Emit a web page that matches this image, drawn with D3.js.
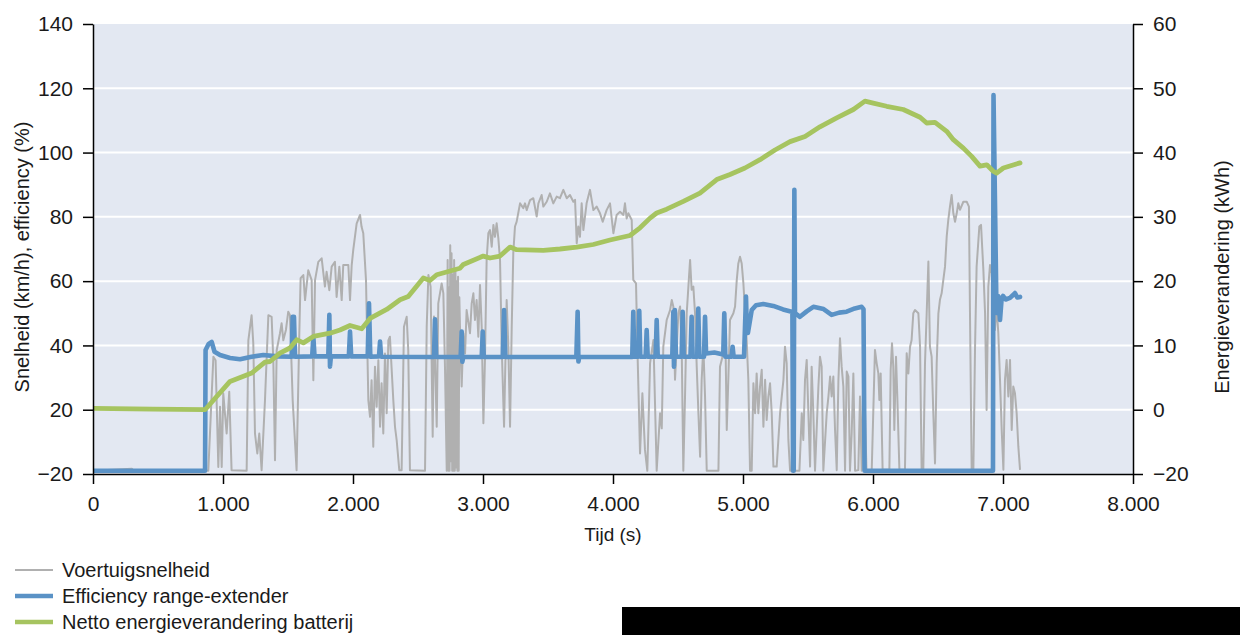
<!DOCTYPE html>
<html>
<head>
<meta charset="utf-8">
<script src="https://cdn.jsdelivr.net/npm/d3@7/dist/d3.min.js"></script>
<style>
  html, body { margin: 0; padding: 0; background: #fff; }
  svg { display: block; font-family: "Liberation Sans", Arial, sans-serif; }
</style>
</head>
<body>
<svg id="chart" width="1240" height="635"></svg>
<script>
// ---------- DATA ----------
const xTickValues = [0, 1000, 2000, 3000, 4000, 5000, 6000, 7000, 8000];
const xTickLabels = ["0", "1.000", "2.000", "3.000", "4.000", "5.000", "6.000", "7.000", "8.000"];
const leftTickValues = [0, 20, 40, 60, 80, 100, 120, 140];
const leftTickLabels = ["\u221220", "20", "40", "60", "80", "100", "120", "140"];
const rightTickValues = [-10, 0, 10, 20, 30, 40, 50, 60];
const rightTickLabels = ["\u221220", "0", "10", "20", "30", "40", "50", "60"];

const seriesNames = ["Voertuigsnelheid", "Efficiency range-extender", "Netto energieverandering batterij"];

// Voertuigsnelheid [tijd (s), km/h] (left axis)
const speed = [
[0,1],[300,1.6],[310,1],[880,1],[887,1],[926,36.5],[943,35.4],[964,2.2],[977,20.9],[990,2.2],[1002,25.1],[1028,12.6],[1048,25.6],[1066,1.2],[1182,1],[1195,41.6],[1220,49.4],[1233,40.6],[1246,12.6],[1264,6.4],[1279,12.6],[1297,1.2],[1323,23.0],[1349,49.4],[1374,48.9],[1387,35.4],[1400,4.3],[1413,38.5],[1438,43.7],[1451,46.9],[1464,41.6],[1484,44.8],[1502,50.5],[1515,49.4],[1536,23.0],[1566,1.2],[1587,43.7],[1597,60.9],[1618,61.9],[1631,54.1],[1656,63.4],[1682,60.3],[1695,29.2],[1708,60.3],[1733,66.0],[1759,67.1],[1784,58.3],[1797,62.9],[1818,57.2],[1836,64.5],[1861,66.0],[1874,55.1],[1895,64.5],[1913,54.1],[1925,65.0],[1964,65.0],[1977,54.1],[1990,65.0],[2002,69.7],[2028,77.9],[2054,80.6],[2066,76.9],[2079,74.9],[2100,60.3],[2118,23.0],[2131,17.8],[2143,29.2],[2156,8.5],[2169,33.4],[2182,20.9],[2195,35.4],[2208,14.7],[2220,28.2],[2233,12.6],[2246,37.5],[2259,18.9],[2272,41.6],[2284,42.7],[2310,23.0],[2323,14.7],[2336,10.5],[2356,1.2],[2374,1.2],[2392,45.8],[2413,48.9],[2425,38.5],[2438,1.2],[2554,1],[2567,45.8],[2580,61.9],[2597,58.3],[2613,11.6],[2623,49.0],[2644,14.7],[2656,53.1],[2682,59.3],[2695,56.2],[2708,32.4],[2721,1],
[2728,66.6],[2733,1],[2738,58],[2743,1],[2748,71.2],[2753,4],[2758,68.7],[2763,1],[2768,62],[2773,1],[2778,66.6],[2783,1],[2788,63.5],[2793,2],[2798,60],[2803,1],[2808,61.4],[2813,1],[2818,55],[2823,45.8],
[2836,27.2],[2849,43.8],[2862,37.5],[2874,51.0],[2900,43.8],[2913,53.1],[2926,56.2],[2938,47.9],[2951,54.1],[2964,42.7],[2977,58.8],[2990,45.8],[3003,15.8],[3015,35.5],[3028,66.6],[3041,74.9],[3054,75.9],[3067,70.7],[3080,77.5],[3092,73.8],[3105,78.0],[3118,73.3],[3131,66.6],[3144,39.6],[3162,14.7],[3182,54.1],[3195,39.6],[3208,14.7],[3221,45.8],[3233,68.7],[3246,77.0],[3259,78.5],[3285,84.2],[3310,82.7],[3323,84.2],[3336,82.1],[3362,85.2],[3387,85.8],[3413,80.1],[3426,84.2],[3451,86.8],[3464,83.2],[3490,84.7],[3515,87.3],[3541,84.2],[3567,86.3],[3592,85.8],[3618,88.4],[3644,85.8],[3669,86.8],[3695,84.7],[3708,85.3],[3721,71.8],[3733,77.0],[3746,73.8],[3759,84.2],[3772,75.9],[3797,84.2],[3823,88.4],[3849,82.1],[3874,83.2],[3900,81.1],[3921,78.5],[3951,82.1],[3977,84.2],[4003,74.9],[4028,80.6],[4054,81.6],[4080,80.6],[4092,84.2],[4105,79.5],[4118,81.1],[4144,79.0],[4156,60.4],[4177,59.3],[4190,35.5],[4208,6.4],[4226,25.1],[4246,7.5],[4264,1],
[4285,34.4],[4311,41.7],[4336,1],[4362,18.9],[4375,14.2],[4387,39.6],[4413,47.9],[4439,51.0],[4452,54.1],[4464,52.1],[4477,29.3],[4490,39.6],[4503,50.0],[4516,52.1],[4529,37.6],[4541,1],[4554,24.1],[4567,50.0],[4580,58.3],[4593,66.6],[4605,57.3],[4618,58.3],[4631,50.0],[4644,33.4],[4657,18.9],[4670,5.4],[4682,29.3],[4695,39.6],[4708,24.1],[4721,1],[4811,1],[4823,33.4],[4849,37.6],[4862,50.0],[4875,13.7],[4887,29.3],[4900,47.9],[4926,50.0],[4939,52.1],[4952,60.4],[4964,65.5],[4977,67.6],[4990,65.5],[5003,59.3],[5016,50.0],[5028,41.7],[5041,29.3],[5054,1],[5067,1],[5080,28.2],[5093,18.9],[5105,31.3],[5118,18.9],[5131,27.2],[5144,32.4],[5157,14.7],[5170,29.3],[5182,16.8],[5195,24.1],[5208,28.2],[5221,18.9],[5234,2.3],[5259,2.3],[5285,18.9],[5298,24.1],[5311,29.3],[5323,39.6],[5336,34.4],[5349,10.6],[5362,1],[5434,1],[5452,18.9],[5464,10.6],[5477,29.3],[5490,35.5],[5503,18.9],[5516,2.3],[5528,33.4],[5541,18.9],[5554,1],[5580,27.2],[5592,36.5],[5605,33.4],[5618,1],[5644,18.9],[5657,24.1],[5670,30.3],[5682,24.1],[5695,30.3],[5708,13.7],[5721,1.2],[5734,29.3],[5746,42.2],[5759,33.4],[5772,27.2],[5785,1],[5798,31.9],[5811,30.3],[5823,1],[5836,12.7],[5849,31.3],[5862,1],[5887,1.2],[5900,24.1],[5913,1],[5926,33.4],[5938,20],[5950,1],[5990,1],
[6015,38.6],[6028,34.5],[6041,31.3],[6049,23.0],[6059,31.3],[6074,1.3],[6126,1.3],[6136,32.4],[6146,40.7],[6156,33.4],[6164,13.7],[6177,36.5],[6187,24.1],[6203,1.3],[6246,1.3],[6259,37.6],[6272,31.3],[6285,39.6],[6297,41.7],[6310,50.0],[6323,51.0],[6349,50.0],[6362,39.6],[6374,1.3],[6387,1.3],[6400,34.5],[6413,50.0],[6426,66.1],[6438,39.6],[6451,36.5],[6464,18.9],[6477,3.3],[6490,34.5],[6503,50.0],[6515,54.2],[6528,56.2],[6541,60.4],[6554,64.5],[6567,73.9],[6579,79.0],[6592,83.2],[6605,86.8],[6618,81.1],[6631,78.5],[6644,81.1],[6656,84.2],[6669,82.2],[6695,84.7],[6721,84.7],[6738,83.2],[6746,50.0],[6759,1.3],[6772,1.3],[6785,39.6],[6797,64.5],[6818,77.0],[6831,77.5],[6849,63.5],[6862,50.0],[6874,19.9],[6887,58.3],[6900,65.0],[6913,62.5],[6926,47.9],[6938,44.8],[6951,52.1],[6964,43.8],[6977,29.3],[6990,13.7],[7003,1.3],[7015,29.3],[7028,35.5],[7041,24.1],[7054,35.5],[7067,13.7],[7079,27.2],[7092,25.1],[7105,18.9],[7118,8.5],[7131,1.3]
];

// Efficiency range-extender [tijd (s), %] (left axis)
const efficiency = [
[0,1],[862,1],[866,38.6],[890,40.5],[913,41.1],[935,38],[977,37.0],[1054,36.1],[1131,35.7],[1220,36.5],[1310,37.0],[1420,36.6],[1528,36.5],[1536,48.9],[1546,48.9],[1554,36.5],[1686,36.6],[1695,42.7],[1704,36.6],[1810,36.6],[1818,49.5],[1823,33.4],[1830,36.6],[1968,36.6],[1977,44.3],[1986,36.6],[2113,36.6],[2123,53.1],[2133,36.5],[2200,36.6],[2208,41.2],[2216,36.5],[2623,36.4],[2631,48.1],[2640,36.4],[2828,36.4],[2836,44.3],[2841,34.9],[2848,36.4],[2990,36.4],[2998,44.3],[3006,36.4],[3152,36.4],[3162,51.0],[3172,36.4],[3718,36.4],[3728,50.5],[3734,35.0],[3740,36.4],[4148,36.4],[4156,50.5],[4164,36.5],[4194,36.5],[4202,50.8],[4210,36.5],[4251,36.5],[4259,44.8],[4267,36.5],[4328,36.5],[4336,47.9],[4344,36.5],[4456,36.5],[4464,50.5],[4469,33.4],[4476,51.0],[4484,36.5],[4528,36.5],[4536,50.5],[4544,36.5],[4596,36.5],[4605,48.9],[4613,36.5],[4648,36.5],[4656,51.5],[4664,36.5],[4700,36.5],[4708,48.9],[4716,37.5],[4780,37.8],[4848,37.2],[4856,50.0],[4864,36.5],[4912,36.5],[4920,39.6],[4928,36.5],[5008,36.5],[5023,55.2],[5030,43.9],[5038,43.9],[5067,51.0],[5100,52.5],[5156,52.9],[5233,52.3],[5308,51.2],[5374,50.5],[5380,50.5],[5385,1],[5390,1],[5395,88.4],[5400,50.1],[5438,48.9],[5490,50.6],[5541,52.0],[5620,51.3],[5682,49.5],[5740,50.2],[5797,50.5],[5860,51.5],[5913,52.0],[5927,51.3],[5935,1],[6923,1],[6927,117.9],[6950,50.1],[6962,55.4],[6977,47.9],[6990,54.8],[7000,55.4],[7020,54.3],[7054,54.8],[7075,55.6],[7092,56.3],[7110,54.9],[7131,55.1]
];

// Netto energieverandering batterij [tijd (s), kWh] (right axis)
const energy = [
[0,0.2],[460,0.1],[862,0],[1054,4.4],[1182,5.4],[1221,5.7],[1323,7.4],[1362,7.5],[1438,8.8],[1515,9.6],[1567,10.9],[1618,10.4],[1695,11.4],[1823,11.9],[1900,12.4],[1977,13.1],[2067,12.6],[2131,14.2],[2259,15.6],[2362,17.1],[2425,17.6],[2541,20.5],[2592,20.1],[2644,21.0],[2823,22.0],[2849,22.6],[3002,23.9],[3054,23.6],[3131,23.9],[3208,25.3],[3259,24.9],[3464,24.8],[3592,25.0],[3721,25.3],[3848,25.7],[3977,26.4],[4131,27.1],[4208,28.3],[4285,29.8],[4336,30.6],[4413,31.2],[4541,32.4],[4669,33.7],[4798,35.8],[4900,36.6],[5015,37.6],[5131,38.9],[5246,40.4],[5362,41.7],[5477,42.5],[5592,44.0],[5721,45.4],[5849,46.7],[5938,48.0],[6002,47.7],[6105,47.2],[6233,46.7],[6362,45.5],[6413,44.6],[6477,44.7],[6567,43.3],[6618,42.0],[6695,40.7],[6759,39.4],[6823,37.9],[6875,38.1],[6925,37.1],[6951,36.8],[7003,37.6],[7131,38.4]
];

// ---------- CHART ----------
const svg = d3.select("#chart");
const M = { left: 93, right: 1133, top: 24, bottom: 474 };
const textColor = "#1a1a1a";
const colors = { speed: "#b0b0b0", eff: "#5a92c6", energy: "#a6c460" };

const x = d3.scaleLinear().domain([0, 8000]).range([M.left, M.right]);
const yL = d3.scaleLinear().domain([0, 140]).range([M.bottom, M.top]);
const yR = d3.scaleLinear().domain([-10, 60]).range([M.bottom, M.top]);

// plot background
svg.append("rect")
  .attr("x", M.left).attr("y", M.top)
  .attr("width", M.right - M.left).attr("height", M.bottom - M.top)
  .attr("fill", "#e3e8f2");

// gridlines
svg.append("g")
  .selectAll("line")
  .data(leftTickValues.filter(v => v > 0 && v < 140))
  .join("line")
  .attr("x1", M.left).attr("x2", M.right)
  .attr("y1", d => yL(d)).attr("y2", d => yL(d))
  .attr("stroke", "#ffffff").attr("stroke-width", 2);

svg.append("clipPath").attr("id", "clip")
  .append("rect").attr("x", M.left).attr("y", M.top - 5)
  .attr("width", M.right - M.left).attr("height", M.bottom - M.top + 5);

const plot = svg.append("g").attr("clip-path", "url(#clip)");

const lineL = d3.line().x(d => x(d[0])).y(d => yL(d[1]));
const lineR = d3.line().x(d => x(d[0])).y(d => yR(d[1]));

plot.append("path").datum(speed)
  .attr("d", lineL).attr("fill", "none")
  .attr("stroke", colors.speed).attr("stroke-width", 2)
  .attr("stroke-linejoin", "round");

plot.append("path").datum(efficiency)
  .attr("d", lineL).attr("fill", "none")
  .attr("stroke", colors.eff).attr("stroke-width", 4.6)
  .attr("stroke-linejoin", "round").attr("stroke-linecap", "round");

plot.append("path").datum(energy)
  .attr("d", lineR).attr("fill", "none")
  .attr("stroke", colors.energy).attr("stroke-width", 4.8)
  .attr("stroke-linejoin", "round").attr("stroke-linecap", "round");

// axes
const fontSize = 21;
function styleAxis(g) {
  g.selectAll(".domain").attr("stroke", "#000").attr("stroke-width", 1.5);
  g.selectAll(".tick line").attr("stroke", "#000").attr("stroke-width", 1.5);
  g.selectAll(".tick text").attr("fill", textColor).attr("font-size", fontSize)
    .attr("font-family", "Liberation Sans, Arial, sans-serif");
}

const gx = svg.append("g").attr("transform", `translate(0,${M.bottom})`)
  .call(d3.axisBottom(x).tickValues(xTickValues)
    .tickFormat((d, i) => xTickLabels[i]).tickSizeInner(10).tickSizeOuter(0).tickPadding(12));
styleAxis(gx);

const gl = svg.append("g").attr("transform", `translate(${M.left},0)`)
  .call(d3.axisLeft(yL).tickValues(leftTickValues)
    .tickFormat((d, i) => leftTickLabels[i]).tickSizeInner(10).tickSizeOuter(0).tickPadding(10));
styleAxis(gl);

const gr = svg.append("g").attr("transform", `translate(${M.right},0)`)
  .call(d3.axisRight(yR).tickValues(rightTickValues)
    .tickFormat((d, i) => rightTickLabels[i]).tickSizeInner(10).tickSizeOuter(0).tickPadding(10));
styleAxis(gr);

// axis titles
svg.append("text")
  .attr("x", (M.left + M.right) / 2).attr("y", 541)
  .attr("text-anchor", "middle").attr("font-size", 19).attr("fill", textColor)
  .text("Tijd (s)");

svg.append("text")
  .attr("transform", `translate(29,257) rotate(-90)`)
  .attr("text-anchor", "middle").attr("font-size", 20).attr("fill", textColor)
  .text("Snelheid (km/h), efficiency (%)");

svg.append("text")
  .attr("transform", `translate(1229,277) rotate(-90)`)
  .attr("text-anchor", "middle").attr("font-size", 20).attr("fill", textColor)
  .text("Energieverandering (kWh)");

// legend
const legendItems = [
  { name: seriesNames[0], color: colors.speed, w: 2 },
  { name: seriesNames[1], color: colors.eff, w: 4.5 },
  { name: seriesNames[2], color: colors.energy, w: 4.5 }
];
const lg = svg.append("g");
legendItems.forEach((it, i) => {
  const yy = 570 + i * 26;
  lg.append("line").attr("x1", 15).attr("x2", 53).attr("y1", yy).attr("y2", yy)
    .attr("stroke", it.color).attr("stroke-width", it.w);
  lg.append("text").attr("x", 62).attr("y", yy).attr("dy", "0.35em")
    .attr("font-size", 20).attr("fill", textColor).text(it.name);
});

// black bar at bottom right (as in reference)
svg.append("rect").attr("x", 622).attr("y", 607).attr("width", 618).attr("height", 28).attr("fill", "#000");
</script>
</body>
</html>
